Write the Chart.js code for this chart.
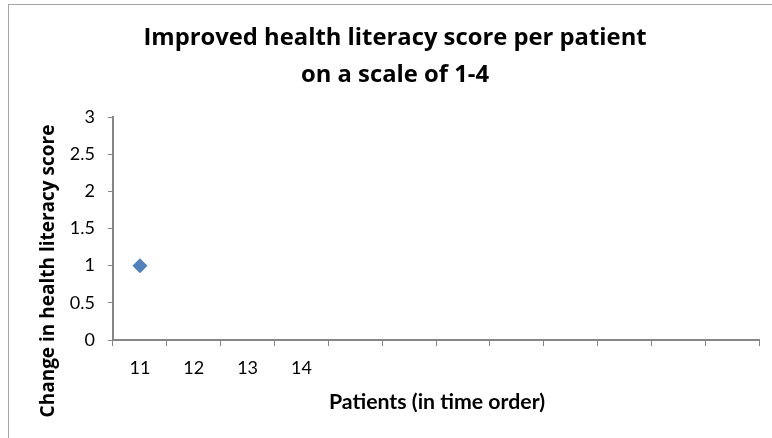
<!DOCTYPE html>
<html>
<head>
<meta charset="utf-8">
<script src="https://cdn.jsdelivr.net/npm/chart.js@4.4.0/dist/chart.umd.min.js"></script>
<style>
  html, body { margin: 0; padding: 0; background: #fff; }
  #wrap { position: relative; width: 772px; height: 438px; overflow: hidden; }
  #frame { position: absolute; left: 8px; top: 4px; width: 800px; height: 500px; border: 1px solid #a6a6a6; box-sizing: border-box; }
  canvas { position: absolute; left: 0; top: 0; }
</style>
</head>
<body>
<div id="wrap">
  <div id="frame"></div>
  <canvas id="c" width="772" height="438"></canvas>
</div>
<script>
const chartTitle = ["Improved health literacy score per patient", "on a scale of 1-4"];
const xAxisTitle = "Patients (in time order)";
const yAxisTitle = "Change in health literacy score";
const categories = ["11", "12", "13", "14", "", "", "", "", "", "", "", ""];
const scoreChange = [1, null, null, null, null, null, null, null, null, null, null, null];
const yTicks = [0, 0.5, 1, 1.5, 2, 2.5, 3];

const textPlugin = {
  id: 'texts',
  afterDraw(chart) {
    const ctx = chart.ctx;
    ctx.save();
    ctx.fillStyle = '#000';
    ctx.textAlign = 'center';
    ctx.textBaseline = 'middle';
    ctx.font = 'bold 23.8px "Open Sans"';
    ctx.fillText(chartTitle[0], 395, 38);
    ctx.fillText(chartTitle[1], 395, 75);
    ctx.font = 'bold 21.3px Lato';
    ctx.fillText(xAxisTitle, 437, 402);
    ctx.translate(49, 271);
    ctx.rotate(-Math.PI / 2);
    ctx.font = 'bold 19px "Open Sans"';
    ctx.fillText(yAxisTitle, 0, 0);
    ctx.restore();
  }
};

new Chart(document.getElementById('c'), {
  type: 'line',
  data: {
    labels: categories,
    datasets: [{
      data: scoreChange,
      showLine: false,
      pointStyle: 'rectRot',
      pointRadius: 7.5,
      pointHoverRadius: 7.5,
      backgroundColor: '#4F81BD',
      borderColor: '#4F81BD',
      pointBorderWidth: 0
    }]
  },
  options: {
    responsive: false,
    animation: false,
    events: [],
    layout: { padding: { top: 117, left: 0, right: 13, bottom: 0 } },
    plugins: { legend: { display: false }, title: { display: false }, tooltip: { enabled: false } },
    scales: {
      x: {
        type: 'category',
        offset: true,
        grid: { offset: true, drawOnChartArea: false, drawTicks: true, tickLength: 6, color: '#868686', lineWidth: 1 },
        border: { color: '#868686', width: 2 },
        ticks: { color: '#000', font: { family: 'Lato', size: 18 }, padding: 11, autoSkip: false, maxRotation: 0 },
        afterFit(s) { s.height = 98; }
      },
      y: {
        min: 0, max: 3,
        afterBuildTicks(s) { s.ticks = yTicks.map(v => ({ value: v })); },
        grid: { drawOnChartArea: false, drawTicks: true, tickLength: 5, color: '#868686', lineWidth: 1 },
        border: { color: '#868686', width: 2 },
        ticks: { color: '#000', font: { family: 'Lato', size: 18 }, padding: 13, callback: v => String(v) },
        afterFit(s) { s.width = 113; }
      }
    }
  },
  plugins: [textPlugin]
});
</script>
</body>
</html>
